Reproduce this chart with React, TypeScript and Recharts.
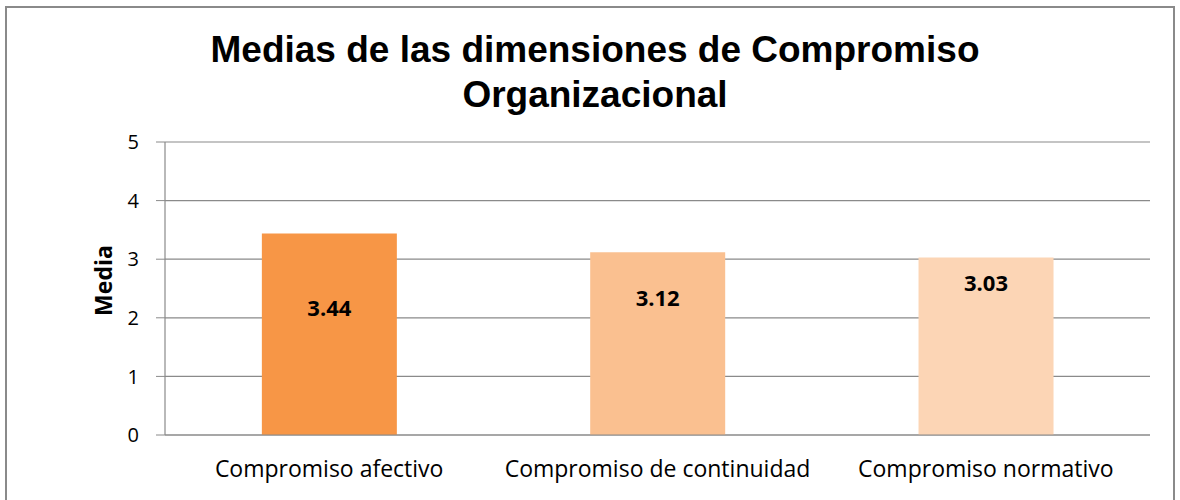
import React from 'react';
import { BarChart, Bar, XAxis, YAxis, CartesianGrid, LabelList, Cell } from 'recharts';

const categories = ['Compromiso afectivo', 'Compromiso de continuidad', 'Compromiso normativo'];
const means = [3.44, 3.12, 3.03];
const yTicks = [0, 1, 2, 3, 4, 5];
const barColors = ['#F79646', '#FAC090', '#FCD5B5'];
// distance of each value label below its bar top, as in the original
const labelDrop = [77, 48, 28];

const data = categories.map((name, i) => ({ name, media: means[i] }));

const ValueLabel = (props: any) => {
    const { x, y, width, value, index } = props;
    return (
        <text
            x={x + width / 2}
            y={y + labelDrop[index]}
            textAnchor="middle"
            dominantBaseline="middle"
            fontFamily="'Open Sans', sans-serif"
            fontWeight="bold"
            fontSize={22}
            fill="#000"
        >
            {value.toFixed(2)}
        </text>
    );
};

export default function App() {
    return (
        <div style={{ position: 'absolute', left: 0, top: 0, width: 1180, height: 500, background: '#fff' }}>
            <div
                style={{
                    position: 'absolute',
                    left: 5,
                    top: 6,
                    width: 1170,
                    height: 500,
                    border: '2px solid #8a8a8a',
                    boxSizing: 'border-box',
                }}
            />
            <div
                style={{
                    position: 'absolute',
                    left: 10,
                    top: 27,
                    width: 1170,
                    textAlign: 'center',
                    fontFamily: "'Liberation Sans', Arial, sans-serif",
                    fontWeight: 'bold',
                    fontSize: 37,
                    lineHeight: '45px',
                    color: '#000',
                }}
            >
                Medias de las dimensiones de Compromiso
                <br />
                Organizacional
            </div>
            <div style={{ position: 'absolute', left: 0, top: 0 }}>
                <BarChart
                    width={1180}
                    height={500}
                    data={data}
                    margin={{ top: 142, right: 30, bottom: 25, left: 105 }}
                    barCategoryGap="29.5%"
                >
                    <CartesianGrid vertical={false} stroke="#8a8a8a" strokeWidth={1.2} />
                    <XAxis
                        dataKey="name"
                        height={40}
                        tickLine={false}
                        axisLine={{ stroke: '#8a8a8a', strokeWidth: 1.2 }}
                        tick={{ fill: '#000', fontSize: 23, fontFamily: "'Open Sans', sans-serif" }}
                        tickMargin={20}
                    />
                    <YAxis
                        width={60}
                        domain={[0, 5]}
                        ticks={yTicks}
                        interval={0}
                        tickSize={9}
                        tickMargin={17}
                        tickLine={{ stroke: '#8a8a8a' }}
                        axisLine={{ stroke: '#8a8a8a', strokeWidth: 1.2 }}
                        tick={{ fill: '#000', fontSize: 20, fontFamily: "'Open Sans', sans-serif" }}
                        label={{
                            value: 'Media',
                            angle: -90,
                            position: 'insideLeft',
                            offset: -1,
                            dy: -8,
                            style: { fontFamily: "'Open Sans', sans-serif", fontWeight: 'bold', fontSize: 23, fill: '#000', textAnchor: 'middle' },
                        }}
                    />
                    <Bar dataKey="media" isAnimationActive={false}>
                        {data.map((entry, i) => (
                            <Cell key={`cell-${i}`} fill={barColors[i]} />
                        ))}
                        <LabelList dataKey="media" content={<ValueLabel />} />
                    </Bar>
                </BarChart>
            </div>
        </div>
    );
}
